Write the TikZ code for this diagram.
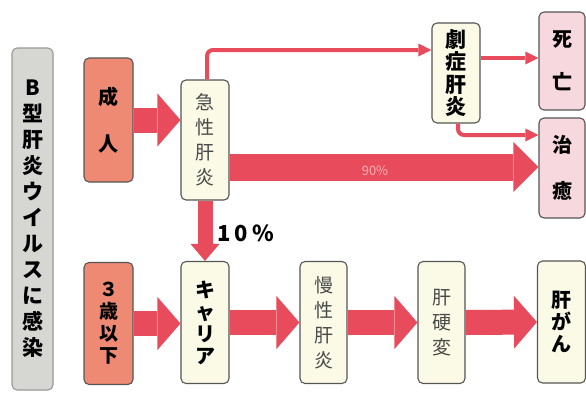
\documentclass[tikz,border=0pt]{standalone}
\usepackage{fontspec}
\newfontfamily\jp{Noto Sans CJK JP}
\usetikzlibrary{arrows.meta,calc}
\definecolor{ared}{HTML}{E84B5C}
\definecolor{salmon}{HTML}{EE8A74}
\definecolor{cream}{HTML}{FBFAE6}
\definecolor{pinkbox}{HTML}{F6D8DE}
\definecolor{graybox}{HTML}{D6D6D2}
\definecolor{boxline}{HTML}{555555}
\definecolor{softtext}{HTML}{4A4A4A}
\definecolor{faint}{HTML}{F6B4B9}
\begin{document}
\begin{tikzpicture}[x=1pt,y=-1pt,
  box/.style={draw=boxline, line width=1.1pt, rounded corners=5pt, inner sep=0pt,
    align=center, minimum width=48pt, minimum height=122pt},
  salmonbox/.style={box, fill=salmon},
  creambox/.style={box, fill=cream},
  pinkbx/.style={box, fill=pinkbox, minimum width=46pt, minimum height=98pt},
  strong/.style={font=\jp\bfseries\fontsize{19}{24}\selectfont, text=black},
  soft/.style={font=\jp\fontsize{19}{25}\selectfont, text=softtext},
  fat/.style={draw=ared, line width=25pt, -{Triangle[length=23pt,width=53pt,line width=0pt]}},
  thinarrow/.style={draw=ared, line width=4pt, rounded corners=6pt,
    -{Triangle[length=13pt,width=13pt,line width=0pt]}},
]
\useasboundingbox (0,0) rectangle (586,394);

% nodes
\node[box, fill=graybox, draw=gray!80, minimum width=41pt, minimum height=342pt,
  font=\jp\bfseries\fontsize{21}{26}\selectfont] (inf) at (32.5,219)
  {B\\型\\肝\\炎\\ウ\\イ\\ル\\ス\\に\\感\\染};
\node[salmonbox, minimum width=49pt, minimum height=124pt, strong,
  font=\jp\bfseries\fontsize{20}{47}\selectfont] (adult) at (108.5,120) {成\\人};
\node[creambox, minimum height=120pt, soft] (acute) at (205,140) {急\\性\\肝\\炎};
\node[creambox, minimum height=100pt, strong, font=\jp\bfseries\fontsize{21}{22.5}\selectfont] (fulm) at (456,73) {劇\\症\\肝\\炎};
\node[pinkbx, strong, font=\jp\bfseries\fontsize{20}{43}\selectfont] (death) at (562,61) {死\\亡};
\node[pinkbx, minimum height=100pt, strong, font=\jp\bfseries\fontsize{20}{46}\selectfont] (cure) at (562,168) {治\\癒};

\node[salmonbox, minimum width=49pt, strong, font=\jp\bfseries\fontsize{19}{22}\selectfont] (under) at (108.5,323.5) {３\\歳\\以\\下};
\node[creambox, strong, font=\jp\bfseries\fontsize{20}{22}\selectfont] (carrier) at (205,322.5) {キ\\ャ\\リ\\ア};
\node[creambox, soft, minimum width=47pt] (chronic) at (323.5,322.5) {慢\\性\\肝\\炎};
\node[creambox, soft, minimum width=47pt] (cirr) at (441.5,322.5) {肝\\硬\\変};
\node[creambox, strong, font=\jp\bfseries\fontsize{20}{22}\selectfont] (cancer) at (561.5,322) {肝\\が\\ん};

% fat arrows
\draw[fat] (adult.east) -- (adult.east -| acute.west);
\draw[fat] (under.east) -- (under.east -| carrier.west);
\draw[fat] (carrier.east) -- (chronic.west);
\draw[fat] (chronic.east) -- (cirr.west);
\draw[fat] (cirr.east) -- (cancer.west);
\coordinate (ninety) at ($(acute.east)+(0,27)$);
\draw[draw=ared, line width=27pt, -{Triangle[length=25pt,width=50pt,line width=0pt]}]
  (ninety) -- (ninety -| cure.west);
\draw[draw=ared, line width=15pt, -{Triangle[length=17pt,width=29pt,line width=0pt]}]
  (acute.south) -- (carrier.north);

% thin arrows
\draw[thinarrow] ([xshift=2pt]acute.north) |- ($(fulm.west)+(0,-23)$);
\coordinate (fd) at ($(fulm.east)+(0,-15)$);
\draw[thinarrow] (fd) -- (fd -| death.west);
\draw[thinarrow] ([xshift=2pt]fulm.south) |- ($(cure.west)+(0,-33)$);

% labels
\node[font=\jp\bfseries\fontsize{22}{22}\selectfont\addfontfeature{LetterSpace=18}, anchor=west]
  (ten) at (214,233) {10\%};
\node[font=\jp\fontsize{13}{13}\selectfont, text=faint] (ninetylbl) at (375,171) {90\%};
\end{tikzpicture}
\end{document}
